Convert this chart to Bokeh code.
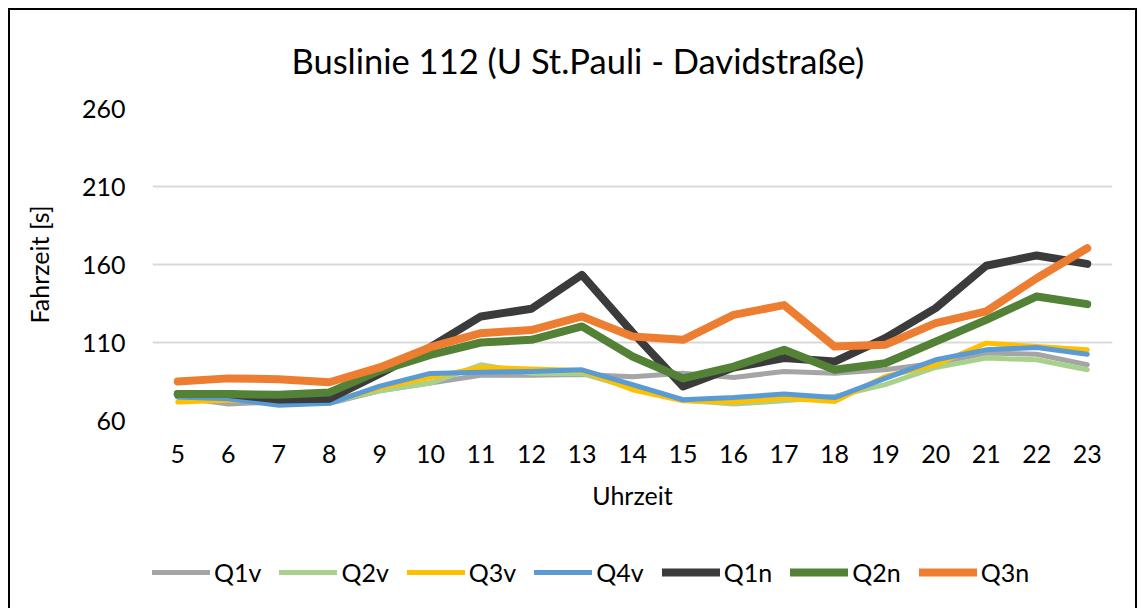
from bokeh.plotting import figure
from bokeh.layouts import column
from bokeh.models import Range1d, FixedTicker, Legend, LegendItem
from bokeh.embed import file_html
from bokeh.resources import INLINE

hours = list(range(5, 24))
q1v = [75, 70.5, 72, 71, 79, 84, 89, 89, 89.5, 88, 90.3, 87.6, 91.4, 90.3, 92.5, 96.7, 103.2, 102.5, 95.7]
q2v = [75, 74, 73, 72, 79, 84, 95.7, 90.3, 90, 80.7, 73, 70.5, 72.6, 75.4, 83, 94, 100, 98.9, 92.5]
q3v = [71.8, 73, 73, 72, 81, 87.6, 94, 93, 92, 79.7, 72.6, 71.8, 74.3, 72.2, 88.2, 95.7, 109.6, 107.4, 105.3]
q4v = [75, 74, 69.8, 71, 82, 90.2, 91, 91.4, 92.5, 83, 73.3, 74.7, 77, 74.7, 87, 98.9, 105.3, 106.8, 102.5]
q1n = [77, 77, 73.5, 74, 90, 107, 126.7, 131.6, 153.4, 116.5, 81.8, 94, 100, 97.8, 112.8, 132, 159.2, 165.8, 160.4]
q2n = [77, 77, 76.5, 78, 92, 102, 110, 111.7, 120.3, 101, 87, 94.6, 105.3, 92.5, 96.7, 110.6, 124.5, 139.5, 134.6]
q3n = [85, 87, 86.5, 84.5, 94, 107, 116, 118, 126.7, 113.8, 111.7, 127.7, 134, 107.4, 108.5, 122.4, 130, 151.2, 170.4]

names = ["Q1v", "Q2v", "Q3v", "Q4v", "Q1n", "Q2n", "Q3n"]
series = [q1v, q2v, q3v, q4v, q1n, q2n, q3n]
colors = ["#A5A5A5", "#A9D18E", "#FFC000", "#5B9BD5", "#3B3B3B", "#538135", "#ED7D31"]
widths = [5, 5, 5, 5, 8, 8, 8]
y_ticks = [60, 110, 160, 210, 260]

FONT = "Lato"

p = figure(width=1125, height=520, x_range=Range1d(4.5, 23.5), y_range=Range1d(60, 260),
           output_backend="svg", toolbar_location=None,
           min_border_left=142, min_border_right=23, min_border_top=98, min_border_bottom=110)
p.outline_line_color = None
p.background_fill_color = "white"

p.title.text = "Buslinie 112 (U St.Pauli - Davidstraße)"
p.title.align = "left"
p.title.offset = 139
p.title.text_font = FONT
p.title.text_font_size = "34.5px"
p.title.text_font_style = "normal"
p.title.text_color = "black"
p.title.standoff = 55

for name, ys, c, w in zip(names, series, colors, widths):
    p.line(hours, ys, line_color=c, line_width=w, line_cap="round", line_join="round")

p.xgrid.visible = False
p.ygrid.grid_line_color = "#D9D9D9"
p.ygrid.grid_line_width = 2
p.ygrid.ticker = FixedTicker(ticks=y_ticks)

for ax in (p.xaxis[0], p.yaxis[0]):
    ax.axis_line_color = None
    ax.major_tick_line_color = None
    ax.minor_tick_line_color = None
    ax.major_label_text_font = FONT
    ax.major_label_text_font_size = "25px"
    ax.major_label_text_color = "black"
    ax.axis_label_text_font = FONT
    ax.axis_label_text_font_size = "25px"
    ax.axis_label_text_font_style = "normal"
    ax.axis_label_text_color = "black"

p.xaxis.ticker = FixedTicker(ticks=hours)
p.yaxis.ticker = FixedTicker(ticks=y_ticks)
p.xaxis.axis_label = "Uhrzeit"
p.yaxis.axis_label = "Fahrzeit [s]"
p.xaxis.major_label_standoff = 18
p.yaxis.major_label_standoff = 21
p.xaxis.axis_label_standoff = 14
p.yaxis.axis_label_standoff = 25

# legend strip below the chart: same series, drawn outside its visible range
lf = figure(width=1125, height=78, x_range=Range1d(4.5, 23.5), y_range=Range1d(0, 1),
            output_backend="svg", toolbar_location=None,
            x_axis_location=None, y_axis_location=None,
            min_border_left=0, min_border_right=0, min_border_top=0, min_border_bottom=0)
lf.outline_line_color = None
lf.xgrid.visible = False
lf.ygrid.visible = False
items = []
for name, ys, c, w in zip(names, series, colors, widths):
    r = lf.line(hours, ys, line_color=c, line_width=w, line_cap="round")
    items.append(LegendItem(label=name, renderers=[r]))
legend = Legend(items=items, orientation="horizontal", location=(0, 21),
                glyph_width=58, glyph_height=28, label_standoff=4, spacing=18, padding=0,
                margin=0, border_line_color=None, background_fill_alpha=0,
                label_text_font=FONT, label_text_font_size="25px", label_text_color="black")
lf.add_layout(legend, "center")

layout = column(p, lf, spacing=0)
layout.styles = {"position": "relative", "left": "8px", "top": "8px",
                 "border-left": "2px solid black", "border-top": "2px solid black",
                 "border-right": "2px solid black"}

open("out.html", "w").write(file_html(layout, INLINE))
